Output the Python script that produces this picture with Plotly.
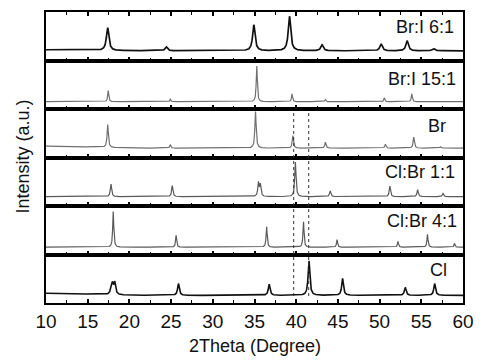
import numpy as np
import plotly.graph_objects as go
from plotly.subplots import make_subplots

# 2-theta grid (degrees)
two_theta = np.arange(10.0, 60.0001, 0.02)

sample_labels = ["Br:I 6:1", "Br:I 15:1", "Br", "Cl:Br 1:1", "Cl:Br 4:1", "Cl"]

# Reflection positions (deg) and intensities (a.u.) for each sample
bri_6_1_pos = [17.39, 24.44, 34.92, 39.19, 43.10, 50.18, 53.30, 56.50]
bri_6_1_int = [66, 11, 75, 100, 17, 20, 29, 6]

bri_15_1_pos = [17.46, 24.90, 35.27, 39.50, 43.50, 50.57, 53.86]
bri_15_1_int = [32, 7, 105, 23, 6, 11, 23]

br_pos = [17.40, 24.90, 35.12, 39.60, 43.50, 50.70, 54.10, 57.30]
br_int = [66, 9, 106, 36, 17, 11, 32, 4]

clbr_1_1_pos = [17.79, 25.14, 35.47, 35.70, 39.90, 44.07, 51.23, 54.56, 57.60]
clbr_1_1_int = [37, 32, 40, 34, 100, 17, 29, 20, 9]

clbr_4_1_pos = [18.06, 25.60, 36.45, 40.87, 44.90, 52.20, 55.74, 58.98]
clbr_4_1_int = [103, 34, 60, 75, 22, 17, 37, 11]

cl_pos = [17.80, 17.96, 18.24, 25.88, 36.76, 41.53, 45.56, 53.08, 56.60]
cl_int = [11, 29, 34, 34, 32, 100, 49, 23, 34]

# Peak width (FWHM, deg), flat baseline level and low-angle background level
peak_fwhm = [0.35, 0.15, 0.18, 0.18, 0.15, 0.25]
baseline = [6, -1, 5, 5, -1, 0]
low_angle_bg = [3, 0, 6, 0, 0, 6]

# Reference reflections marked with dotted lines
ref_lines = [39.7, 41.5]

peak_sets = [
    (bri_6_1_pos, bri_6_1_int),
    (bri_15_1_pos, bri_15_1_int),
    (br_pos, br_int),
    (clbr_1_1_pos, clbr_1_1_int),
    (clbr_4_1_pos, clbr_4_1_int),
    (cl_pos, cl_int),
]


def profile(pos, inten, fwhm, base, bg):
    y = np.full_like(two_theta, float(base))
    y += bg * np.exp(-((two_theta - 10.0) / 7.0) ** 2)
    for p, h in zip(pos, inten):
        y += h / (1.0 + ((two_theta - p) / (fwhm / 2.0)) ** 2)
    return y


line_styles = [
    dict(color="#111111", width=1.7),
    dict(color="#707070", width=1.2),
    dict(color="#707070", width=1.2),
    dict(color="#5a5a5a", width=1.2),
    dict(color="#5a5a5a", width=1.2),
    dict(color="#111111", width=1.6),
]

W, H = 484, 360
M_L, M_R, M_T, M_B = 46, 12, 10, 57
PLOT_W = W - M_L - M_R
PLOT_H = H - M_T - M_B


def px_x(px):
    return (px - M_L) / PLOT_W


def px_y(px):
    return (H - M_B - px) / PLOT_H


n = len(sample_labels)
fig = make_subplots(rows=n, cols=1, shared_xaxes=True, vertical_spacing=0)

for i, (pos, inten) in enumerate(peak_sets):
    y = profile(pos, inten, peak_fwhm[i], baseline[i], low_angle_bg[i])
    fig.add_trace(
        go.Scatter(x=two_theta, y=y, mode="lines", line=line_styles[i],
                   showlegend=False, hoverinfo="skip"),
        row=i + 1, col=1,
    )

tick_font = dict(family="Liberation Sans, Arial, sans-serif", size=19, color="#111")
for i in range(n):
    fig.update_xaxes(
        range=[10, 60], dtick=5, tick0=10,
        ticks="inside", ticklen=4, tickwidth=1.5, tickcolor="black",
        minor=dict(dtick=2.5, tick0=10, ticks="inside", ticklen=3,
                   tickwidth=1, tickcolor="black"),
        showline=True, linecolor="black", linewidth=1.7,
        mirror="ticks" if i == 0 else True,
        showgrid=False, zeroline=False,
        tickfont=tick_font,
        showticklabels=(i == n - 1),
        row=i + 1, col=1,
    )
    fig.update_yaxes(
        range=[-22, 118], showticklabels=False, ticks="",
        showline=True, linecolor="black", linewidth=1.7, mirror=True,
        showgrid=False, zeroline=False,
        row=i + 1, col=1,
    )

# Dotted guide lines through the lower panels
for xv in ref_lines:
    fig.add_shape(type="line", xref="x6", yref="paper",
                  x0=xv, x1=xv, y0=px_y(296), y1=px_y(110),
                  line=dict(color="#333333", width=1, dash="dot"))

# Sample labels
label_font = dict(family="Liberation Sans, Arial, sans-serif", size=18, color="#111")
label_right = [464.5, 466.5, 457, 466, 468, 457.5]
label_mid = [25, 77, 125, 171, 220, 269.5]
for txt, xr, ym in zip(sample_labels, label_right, label_mid):
    fig.add_annotation(text=txt, xref="paper", yref="paper",
                       x=px_x(xr), y=px_y(ym), xanchor="right", yanchor="middle",
                       showarrow=False, font=label_font)

# Axis titles
title_font = dict(family="Liberation Sans, Arial, sans-serif", size=18, color="#111")
fig.add_annotation(text="2Theta (Degree)", xref="paper", yref="paper",
                   x=px_x(259), y=px_y(346), xanchor="center", yanchor="middle",
                   showarrow=False, font=title_font)
fig.add_annotation(text="Intensity (a.u.)", xref="paper", yref="paper",
                   x=px_x(23), y=px_y(155), xanchor="center", yanchor="middle",
                   textangle=-90, showarrow=False, font=title_font)

fig.update_layout(
    width=W, height=H,
    margin=dict(l=M_L, r=M_R, t=M_T, b=M_B),
    paper_bgcolor="white", plot_bgcolor="white",
)

fig.write_html("out.html")
